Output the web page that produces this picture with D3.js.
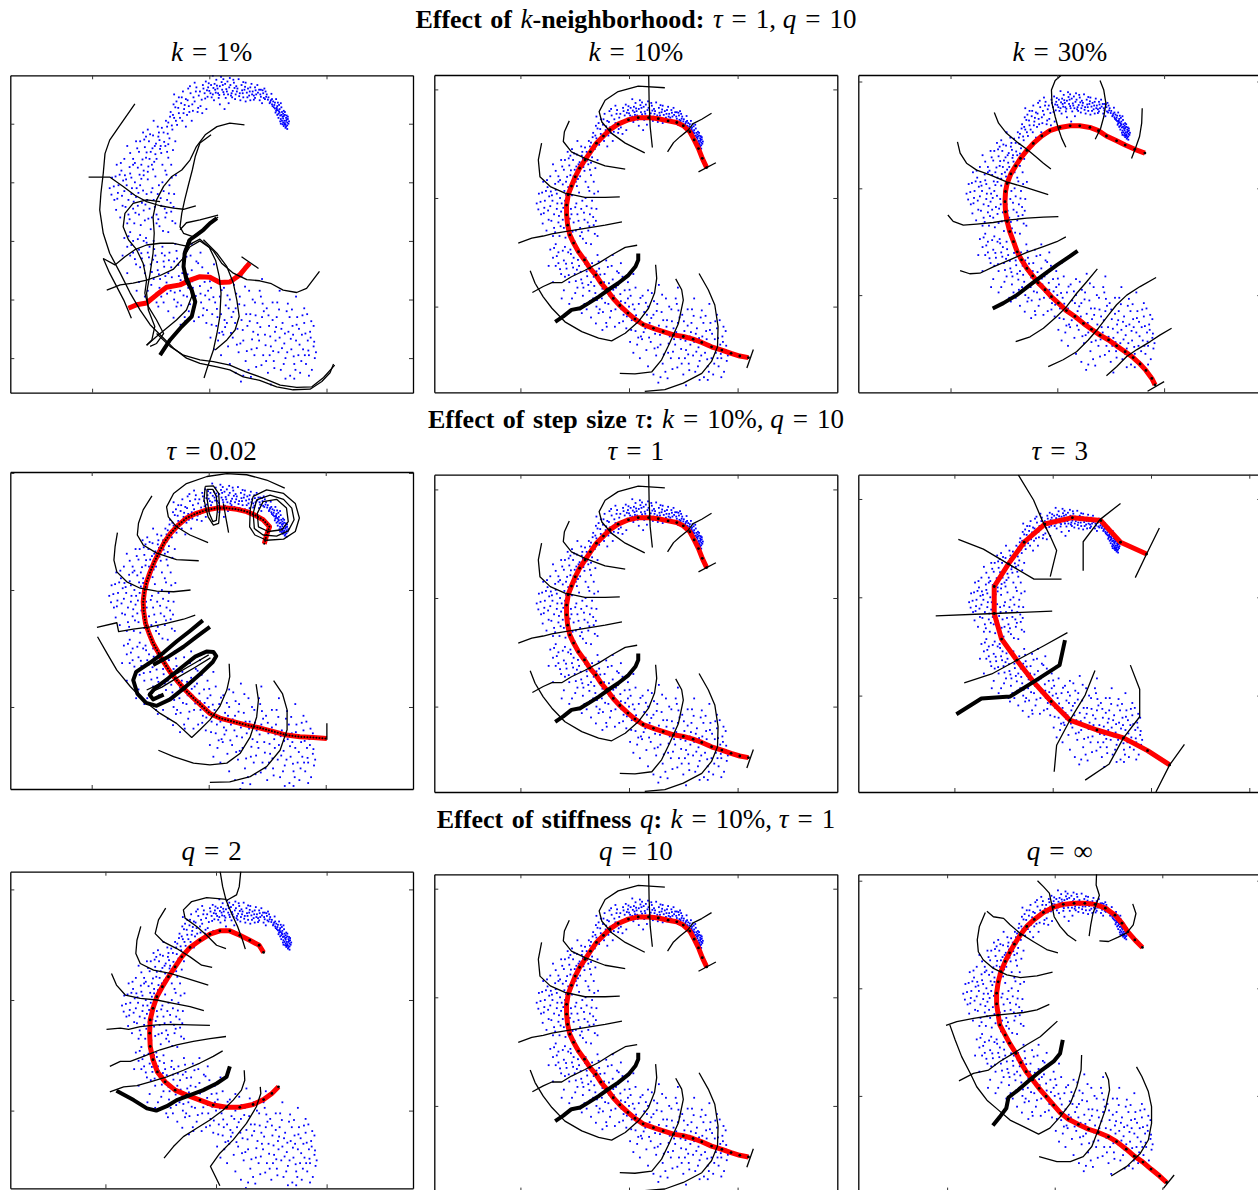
<!DOCTYPE html>
<html>
<head>
<meta charset="utf-8">
<script src="https://cdn.jsdelivr.net/npm/d3@7"></script>
<style>
  body { margin: 0; background: #fff; }
  svg { display: block; }
  text { font-family: "Liberation Serif", "Times New Roman", serif; white-space: pre; }
</style>
</head>
<body>
<div class="vis"></div>
<script>
// ---- data: the sample cloud (shared by every panel) ----
const cloud = [
  [1.30,0.98],[1.33,1.02],[1.28,1.05],[1.31,1.10],[1.25,1.12],[1.34,1.08],[1.27,0.96],[1.22,1.08],[1.29,1.15],[1.24,1.20],
  [1.18,1.17],[1.20,1.25],[1.14,1.22],[1.16,1.30],[1.10,1.28],[1.12,1.36],[1.07,1.33],[1.05,1.40],[1.26,1.02],[1.32,1.14],
  [1.21,1.14],[1.17,1.23],[1.09,1.38],[1.23,1.28],[1.30,0.93],[1.35,1.00],[1.19,1.32],[1.27,1.22],[1.13,1.19],[1.01,1.45],
  [0.98,1.50],[1.03,1.35],[1.28,0.99],[1.31,1.05],[1.24,1.05],[1.20,1.19],[1.15,1.27],[1.11,1.32],[1.26,1.17],[1.33,0.97],
  [1.22,1.00],[1.29,1.20],[1.07,1.42],[1.17,1.36],[1.34,1.12],[1.18,1.10],
  [0.95,1.42],[0.92,1.52],[0.88,1.46],[0.85,1.58],[0.80,1.50],[0.78,1.44],[0.74,1.55],[0.70,1.62],[0.68,1.48],[0.64,1.53],
  [0.60,1.58],[0.58,1.45],[0.55,1.66],[0.52,1.52],[0.48,1.60],[0.45,1.50],[0.42,1.70],[0.40,1.56],[0.37,1.48],[0.34,1.62],
  [0.30,1.55],[0.27,1.68],[0.25,1.50],[0.22,1.58],[0.18,1.64],[0.15,1.52],[0.12,1.75],[0.10,1.58],[0.06,1.50],[0.03,1.66],
  [0.00,1.56],[-0.03,1.46],[-0.06,1.72],[0.08,1.40],[0.33,1.35],[0.62,1.38],[0.90,1.35],[0.20,1.80],[0.50,1.76],[0.72,1.68],
  [0.16,1.44],[0.44,1.42],[0.78,1.62],[-0.10,1.60],[0.96,1.55],[0.86,1.40],[0.82,1.66],[0.76,1.48],[0.66,1.60],[0.57,1.52],
  [0.53,1.40],[0.46,1.64],[0.38,1.52],[0.31,1.72],[0.28,1.44],[0.23,1.66],[0.14,1.60],[0.09,1.68],[0.04,1.45],[-0.02,1.62],
  [0.35,1.78],[0.62,1.70],[0.70,1.40],[0.88,1.58],[0.06,1.82],[-0.08,1.52],[0.26,1.25],[0.18,1.33],
  [1.29,1.01],[1.32,1.07],[1.26,1.09],[1.23,1.15],[1.19,1.21],[1.15,1.25],[1.27,1.13],[1.31,0.95],[1.21,1.04],[1.25,0.99],
  [1.16,1.15],[1.12,1.26],[1.08,1.30],[1.04,1.37],[1.00,1.41],[0.97,1.46],[0.93,1.44],[0.91,1.57],[0.87,1.50],[0.83,1.53],
  [0.79,1.57],[0.73,1.50],[0.69,1.55],[0.65,1.45],[0.61,1.63],[0.56,1.57],[0.51,1.47],[0.47,1.55],[0.43,1.61],[0.39,1.45],
  [0.36,1.66],[0.32,1.50],[0.29,1.59],[0.24,1.54],[0.21,1.71],[0.17,1.49],[0.13,1.65],[0.11,1.53],[0.07,1.61],[0.02,1.52],
  [-0.01,1.69],[-0.04,1.57],[-0.07,1.43],[-0.11,1.66],[0.24,1.76],[0.41,1.75],[0.58,1.71],[0.76,1.41],[0.94,1.60],[1.06,1.51],
  [1.14,1.42],[1.22,1.35],[1.36,1.04],[1.33,0.91],
  [-0.15,1.30],[-0.18,1.48],[-0.22,1.62],[-0.25,1.38],[-0.28,1.22],[-0.32,1.52],[-0.35,1.30],[-0.38,1.15],[-0.40,1.42],[-0.43,1.25],
  [-0.46,1.05],[-0.48,1.35],[-0.52,1.18],[-0.55,0.98],[-0.58,1.28],[-0.60,1.10],[-0.63,0.90],[-0.66,1.20],[-0.30,1.05],[-0.12,1.18],
  [-0.45,1.55],[-0.52,1.45],[-0.70,1.02],[-0.40,0.95],[-0.05,1.25],[-0.25,1.70],[-0.20,1.20],[-0.27,1.45],[-0.36,1.60],[-0.42,1.32],
  [-0.50,1.10],[-0.56,1.38],[-0.62,1.15],[-0.34,1.20],[-0.16,1.55],[-0.60,1.50],
  [-0.13,1.41],[-0.19,1.27],[-0.23,1.55],[-0.29,1.33],[-0.33,1.64],[-0.37,1.40],[-0.44,1.18],[-0.47,1.45],[-0.53,1.27],[-0.57,1.05],
  [-0.61,1.33],[-0.64,0.97],[-0.67,1.12],[-0.71,0.83],[-0.74,1.05],[-0.77,0.69],[-0.81,0.93],[-0.84,0.57],[-0.87,0.78],[-0.91,0.66],
  [-0.94,0.35],[-0.97,0.58],[-1.01,0.82],[-1.04,0.27],[-1.07,0.51],[-1.11,0.73],[-1.14,0.39],[-1.19,0.13],[-1.23,0.58],[-1.27,0.33],
  [-0.68,0.75],[-0.72,0.95],[-0.75,0.62],[-0.78,0.85],[-0.82,0.50],[-0.85,0.72],[-0.88,0.95],[-0.90,0.40],[-0.93,0.62],[-0.96,0.80],
  [-0.98,0.30],[-1.00,0.52],[-1.03,0.70],[-1.05,0.18],[-1.08,0.42],[-1.10,0.60],[-1.13,0.85],[-1.16,0.30],[-0.62,0.55],[-0.58,0.70],
  [-0.70,0.42],[-1.20,0.52],[-1.25,0.70],[-0.80,0.30],[-0.95,1.05],[-1.05,0.90],[-0.65,0.30],[-1.30,0.40],[-0.75,0.20],[-1.40,0.62],
  [-0.70,0.65],[-0.83,0.62],[-0.92,0.48],[-1.02,0.40],[-1.12,0.20],[-0.86,0.85],[-1.18,0.70],[-0.96,0.22],[-0.72,0.52],[-1.08,0.78],
  [-1.60,0.10],[-1.55,-0.05],[-1.50,0.20],[-1.45,-0.15],[-1.42,0.05],[-1.38,-0.30],[-1.35,0.15],[-1.32,-0.10],[-1.30,-0.45],[-1.27,0.00],
  [-1.25,-0.25],[-1.22,0.25],[-1.20,-0.55],[-1.18,-0.05],[-1.15,-0.35],[-1.12,0.12],[-1.10,-0.65],[-1.07,-0.20],[-1.05,0.05],[-1.02,-0.45],
  [-1.00,-0.80],[-0.97,-0.10],[-0.95,-0.30],[-0.92,0.10],[-0.90,-0.55],[-0.88,-0.20],[-0.85,-0.75],[-0.82,-0.40],[-0.80,0.00],[-0.78,-0.15],
  [-0.75,-0.60],[-0.72,-0.30],[-0.70,-0.85],[-0.68,-0.05],[-0.65,-0.50],[-1.48,-0.40],[-1.52,-0.60],[-1.40,-0.70],[-1.35,-0.85],[-1.28,-0.70],
  [-1.62,-0.30],[-1.70,-0.10],[-1.58,0.30],[-1.45,0.40],[-1.35,0.50],[-0.60,-0.20],[-0.58,-0.70],[-1.18,-0.90],[-1.08,-0.95],[-0.95,-1.00],
  [-1.44,0.12],[-1.33,-0.20],[-1.24,-0.10],[-1.16,0.06],[-1.06,-0.30],[-0.98,-0.60],[-0.86,-0.05],[-0.76,-0.45],[-1.56,-0.18],[-1.38,-0.55],
  [-1.22,-0.40],[-1.12,-0.48],[-0.90,-0.70],[-0.66,-0.35],[-1.66,0.08],[-1.30,0.30],
  [-1.33,0.08],[-1.36,0.26],[-1.41,-0.05],[-1.47,0.03],[-1.53,0.13],[-1.57,-0.28],[-1.49,-0.23],[-1.43,-0.42],[-1.36,-0.63],[-1.29,-0.33],
  [-1.26,-0.52],[-1.21,-0.18],[-1.17,-0.73],[-1.13,-0.14],[-1.09,-0.38],[-1.04,-0.62],[-0.99,-0.17],[-0.93,-0.42],[-0.87,-0.63],[-0.83,-0.27],
  [-0.79,-0.83],[-0.73,-0.52],[-0.69,-0.19],[-0.63,-0.66],[-0.61,-0.42],[-0.57,0.12],[-0.64,0.08],[-0.73,0.13],[-1.63,-0.07],[-1.67,-0.21],
  [-1.59,-0.47],[-1.51,0.33],
  [-1.45,-0.95],[-1.40,-1.10],[-1.35,-1.25],[-1.30,-1.00],[-1.25,-1.40],[-1.20,-1.15],[-1.15,-1.30],[-1.10,-1.55],[-1.05,-1.20],[-1.00,-1.40],
  [-0.95,-1.65],[-0.92,-1.25],[-0.88,-1.50],[-0.85,-1.80],[-0.80,-1.10],[-0.78,-1.35],[-0.75,-1.60],[-0.72,-1.90],[-0.68,-1.20],[-0.65,-1.45],
  [-0.62,-1.75],[-0.60,-2.00],[-0.58,-1.05],[-0.55,-1.30],[-0.52,-1.60],[-0.50,-1.85],[-0.48,-2.10],[-0.45,-1.40],[-0.42,-1.15],[-0.40,-1.70],
  [-0.38,-1.95],[-0.35,-2.20],[-0.32,-1.25],[-0.30,-1.50],[-0.28,-1.80],[-0.25,-2.05],[-0.22,-1.35],[-0.20,-1.60],[-0.18,-2.30],[-0.15,-1.90],
  [-0.12,-1.45],[-0.10,-2.15],[-0.08,-1.70],[-0.05,-2.40],[-0.02,-1.55],[0.00,-2.00],[0.03,-1.80],[0.05,-2.25],[-1.20,-1.70],[-1.05,-1.85],
  [-0.90,-2.05],[-0.30,-1.05],[-0.15,-1.20],[0.08,-1.40],[0.12,-1.65],[-1.30,-1.20],[-1.18,-1.45],[-1.02,-1.10],[-0.96,-1.32],[-0.84,-1.65],
  [-0.70,-1.55],[-0.60,-1.35],[-0.46,-1.55],[-0.36,-1.80],[-0.24,-1.65],[-0.14,-2.05],[-0.02,-1.85],[-0.66,-1.85],[-0.54,-2.05],[-0.42,-2.30],
  [-0.82,-1.95],[-1.12,-1.00],[-0.76,-1.25],[-1.24,-1.85],[-0.99,-1.75],[-0.87,-2.12],[-0.70,-2.20],[-0.56,-2.12],[-0.41,-2.37],[-0.26,-2.37],
  [-1.10,-1.95],[-1.40,-1.55],[-1.48,-1.25],
  [-1.38,-0.92],[-1.33,-1.07],[-1.27,-1.31],[-1.22,-0.97],[-1.16,-1.21],[-1.11,-1.42],[-1.07,-1.03],[-1.03,-1.28],[-0.98,-1.53],[-0.94,-1.14],
  [-0.89,-1.36],[-0.86,-1.57],[-0.81,-1.21],[-0.77,-1.44],[-0.73,-1.71],[-0.69,-1.33],[-0.64,-1.62],[-0.59,-1.88],[-0.56,-1.17],[-0.53,-1.41],
  [-0.49,-1.67],[-0.44,-1.93],[-0.39,-1.27],[-0.37,-1.57],[-0.33,-2.08],[-0.29,-1.69],[-0.23,-1.94],[-0.19,-1.38],[-0.16,-1.77],[-0.11,-2.27],
  [-0.07,-1.93],[-0.04,-2.18],[0.01,-1.69],[0.04,-2.43],[0.07,-1.96],[0.13,-2.16],[0.17,-2.57],[-0.61,-2.31],[-0.49,-2.43],[-0.78,-2.05],
  [0.10,-2.05],[0.12,-2.45],[0.15,-2.70],[0.18,-1.95],[0.20,-2.25],[0.22,-2.55],[0.25,-1.80],[0.28,-2.10],[0.30,-2.40],[0.32,-2.80],
  [0.35,-2.00],[0.38,-2.30],[0.40,-2.65],[0.42,-1.75],[0.45,-2.15],[0.48,-2.50],[0.50,-2.90],[0.52,-1.95],[0.55,-2.35],[0.58,-2.70],
  [0.60,-2.10],[0.62,-3.05],[0.65,-2.45],[0.68,-1.85],[0.70,-2.25],[0.72,-2.85],[0.75,-2.55],[0.78,-2.05],[0.80,-3.15],[0.82,-2.40],
  [0.85,-2.70],[0.88,-1.95],[0.90,-2.30],[0.92,-2.95],[0.95,-2.60],[0.98,-2.15],[1.00,-3.25],[1.02,-2.45],[1.05,-2.80],[1.08,-2.05],
  [1.10,-3.05],[1.12,-2.55],[1.15,-2.30],[1.18,-2.90],[1.20,-2.65],[1.22,-3.20],[1.25,-2.40],[1.28,-2.75],[1.30,-3.00],[1.32,-2.20],
  [1.35,-2.55],[1.38,-3.30],[1.40,-2.85],[1.42,-2.45],[1.45,-3.10],[1.48,-2.70],[1.50,-2.30],[1.52,-2.95],[1.55,-3.25],[1.58,-2.60],
  [1.60,-2.85],[1.62,-2.40],[1.65,-3.10],[1.68,-2.70],[1.70,-2.95],[1.72,-2.55],[1.75,-3.20],[1.78,-2.80],[1.80,-3.00],[1.48,-1.95],
  [1.62,-2.15],[1.20,-1.85],[0.90,-1.65],[0.55,-1.60],[0.35,-1.70],[1.05,-3.45],[0.58,-3.30],[0.14,-2.30],[0.24,-2.60],[0.33,-2.15],
  [0.44,-2.40],[0.53,-2.75],[0.63,-2.25],[0.74,-2.00],[0.83,-2.60],[0.93,-2.20],[1.03,-2.95],[1.13,-2.70],[1.23,-2.50],[1.33,-2.90],
  [1.43,-2.60],[1.53,-2.50],[1.63,-2.95],[1.73,-2.65],[1.82,-2.90],[1.57,-3.05],[1.47,-3.20],[1.27,-3.10],[0.97,-3.05],[0.77,-2.95],
  [0.67,-3.20],[1.37,-2.30],[1.67,-2.25],[1.78,-2.45],[1.08,-2.35],[0.86,-1.85],[1.16,-2.05],[0.46,-1.90],[0.26,-2.35],[0.02,-2.65],
  [0.08,-2.85],[0.20,-2.95],[0.35,-3.10],[0.45,-3.25],[0.54,-3.40],[1.30,-3.35],[1.45,-3.35],[1.70,-3.30],
  [0.21,-1.84],[0.27,-2.47],[0.31,-1.93],[0.37,-2.57],[0.41,-2.21],[0.47,-2.77],[0.51,-2.08],[0.57,-2.52],[0.61,-1.78],[0.64,-2.88],
  [0.69,-2.37],[0.73,-2.68],[0.79,-2.27],[0.81,-2.83],[0.87,-2.47],[0.91,-2.07],[0.96,-2.78],[1.01,-2.27],[1.04,-2.63],[1.09,-2.88],
  [1.14,-2.47],[1.19,-2.17],[1.24,-2.83],[1.29,-2.58],[1.34,-2.07],[1.39,-2.67],[1.44,-2.97],[1.49,-2.43],[1.54,-2.77],[1.59,-2.27],
  [1.64,-2.58],[1.69,-2.87],[1.74,-2.37],[1.79,-2.72],[1.41,-2.17],[1.11,-3.17],[0.89,-3.12],[0.71,-3.32]
];

// ---- k = 10%, tau = 1, q = 10 (shown three times) ----
const redK10 = [[1.43,0.56],[1.35,0.73],[1.28,0.91],[1.20,1.07],[1.12,1.22],[1.00,1.33],[0.88,1.39],[0.72,1.42],[0.54,1.46],[0.36,1.48],[0.17,1.48],[-0.01,1.44],[-0.20,1.36],[-0.35,1.26],[-0.47,1.14],[-0.60,1.01],[-0.71,0.85],[-0.81,0.70],[-0.91,0.55],[-0.99,0.39],[-1.06,0.22],[-1.12,0.06],[-1.15,-0.13],[-1.15,-0.31],[-1.13,-0.50],[-1.09,-0.68],[-1.02,-0.83],[-0.93,-0.99],[-0.82,-1.14],[-0.72,-1.29],[-0.61,-1.42],[-0.52,-1.56],[-0.41,-1.69],[-0.29,-1.85],[-0.17,-1.98],[-0.02,-2.12],[0.11,-2.23],[0.26,-2.33],[0.45,-2.40],[0.63,-2.46],[0.82,-2.52],[1.00,-2.55],[1.18,-2.60],[1.34,-2.66],[1.52,-2.74],[1.71,-2.80],[1.88,-2.86],[2.04,-2.91],[2.20,-2.94]];
const thinK10 = [
  [[0.66,2.03],[0.17,2.06],[-0.20,1.96],[-0.44,1.80],[-0.55,1.59],[-0.50,1.40],[-0.32,1.19],[-0.07,1.01],[0.29,0.83]],
  [[0.36,2.40],[0.37,1.80],[0.39,1.31],[0.43,0.93]],
  [[1.52,1.56],[1.34,1.45],[1.18,1.37],[1.09,1.25],[0.94,1.13],[0.82,1.02],[0.71,0.85]],
  [[1.28,0.48],[1.60,0.65]],
  [[-1.10,1.42],[-1.19,1.22],[-1.21,1.04],[-1.06,0.85],[-0.81,0.73],[-0.44,0.59],[-0.07,0.53]],
  [[-1.61,1.01],[-1.67,0.70],[-1.64,0.39],[-1.45,0.21],[-1.18,0.09],[-0.81,0.01],[-0.44,0.01],[-0.17,0.02]],
  [[-2.04,-0.83],[-1.79,-0.74],[-1.58,-0.70],[-1.42,-0.66],[-1.18,-0.62],[-0.81,-0.56],[-0.44,-0.50],[-0.13,-0.44]],
  [[-1.78,-1.74],[-1.58,-1.63],[-1.42,-1.56],[-1.24,-1.56],[-1.06,-1.45],[-0.81,-1.33],[-0.56,-1.20],[-0.32,-1.05],[-0.07,-0.91],[0.15,-0.87]],
  [[-1.82,-1.34],[-1.73,-1.57],[-1.58,-1.82],[-1.42,-2.03],[-1.18,-2.28],[-0.87,-2.46],[-0.56,-2.58],[-0.32,-2.63],[-0.07,-2.49],[0.17,-2.28],[0.36,-2.03],[0.47,-1.75],[0.51,-1.48],[0.49,-1.23]],
  [[-0.17,-3.23],[0.11,-3.24],[0.42,-3.20],[0.60,-2.98],[0.75,-2.67],[0.91,-2.31],[1.00,-1.88],[0.97,-1.69],[0.86,-1.49]],
  [[0.29,-3.56],[0.66,-3.53],[1.00,-3.41],[1.34,-3.23],[1.52,-3.01],[1.63,-2.74],[1.64,-2.37],[1.58,-1.97],[1.46,-1.69],[1.29,-1.39]],
  [[2.17,-3.13],[2.29,-2.79]]
];
const thickK10 = [[[-1.36,-2.28],[-1.21,-2.18],[-1.06,-2.06],[-0.90,-2.03],[-0.75,-1.94],[-0.56,-1.82],[-0.38,-1.69],[-0.20,-1.57],[-0.01,-1.42],[0.12,-1.26],[0.17,-1.14],[0.17,-1.02]]];

// ---- k = 1% ----
const redK1 = [[-1.38,-2.15],[-1.24,-2.09],[-1.07,-2.06],[-0.90,-1.92],[-0.73,-1.79],[-0.50,-1.75],[-0.33,-1.67],[-0.16,-1.61],[0.01,-1.62],[0.18,-1.71],[0.35,-1.70],[0.52,-1.58],[0.61,-1.47],[0.69,-1.38]];
const thinK1 = [
  [[-1.27,1.34],[-1.52,0.98],[-1.70,0.72],[-1.78,0.49],[-1.81,0.15],[-1.85,-0.19],[-1.87,-0.47],[-1.81,-0.87],[-1.70,-1.21],[-1.52,-1.55],[-1.35,-1.89],[-1.18,-2.18],[-1.01,-2.43],[-0.81,-2.63],[-0.61,-2.83],[-0.39,-3.00],[-0.16,-3.09],[0.13,-3.15],[0.35,-3.20],[0.58,-3.32],[0.86,-3.38],[1.15,-3.49],[1.43,-3.54],[1.72,-3.53],[1.92,-3.40],[2.06,-3.25],[2.12,-3.10]],
  [[-0.90,-2.58],[-0.67,-2.80],[-0.44,-2.95],[-0.16,-3.03],[0.07,-3.06],[0.35,-3.12],[0.61,-3.23],[0.92,-3.34],[1.21,-3.46],[1.49,-3.50],[1.75,-3.49],[1.95,-3.33],[2.14,-3.12]],
  [[-2.06,0.09],[-1.70,0.09],[-1.47,-0.07],[-1.27,-0.22],[-1.07,-0.33],[-0.84,-0.40],[-0.61,-0.44],[-0.44,-0.46],[-0.23,-0.40]],
  [[0.60,0.98],[0.35,1.01],[0.13,0.95],[-0.07,0.81],[-0.22,0.61],[-0.33,0.38],[-0.47,0.21],[-0.64,0.10],[-0.78,-0.07],[-0.90,-0.30],[-0.96,-0.59],[-0.94,-0.87],[-0.96,-1.21],[-1.01,-1.55],[-1.07,-1.89],[-1.04,-2.18],[-0.93,-2.46],[-0.98,-2.69],[-1.07,-2.78]],
  [[0.03,0.81],[-0.16,0.67],[-0.24,0.44],[-0.29,0.21],[-0.35,-0.02],[-0.42,-0.30],[-0.47,-0.53],[-0.50,-0.76],[-0.44,-0.87],[-0.27,-0.93]],
  [[-1.81,-1.30],[-1.61,-1.41],[-1.44,-1.27],[-1.27,-1.15],[-1.07,-1.07],[-0.84,-1.04],[-0.61,-1.04],[-0.39,-1.09],[-0.16,-0.97],[0.07,-1.17],[0.21,-1.38],[0.41,-1.55],[0.64,-1.66],[0.86,-1.68],[1.06,-1.73],[1.26,-1.84],[1.49,-1.88],[1.66,-1.81],[1.88,-1.52]],
  [[-1.75,-1.84],[-1.52,-1.75],[-1.30,-1.72],[-1.07,-1.67],[-0.84,-1.59],[-0.61,-1.48],[-0.46,-1.31],[-0.33,-1.10],[-0.16,-1.00],[0.00,-1.11],[0.11,-1.34],[0.17,-1.61],[0.20,-1.89],[0.18,-2.29],[0.13,-2.58],[0.07,-2.86],[-0.03,-3.15],[-0.09,-3.34]],
  [[-1.81,-1.30],[-1.70,-1.55],[-1.58,-1.78],[-1.46,-2.01],[-1.33,-2.32]],
  [[0.55,-1.27],[0.84,-1.47]],
  [[-0.84,-0.33],[-1.07,-0.30],[-1.30,-0.36],[-1.44,-0.53],[-1.47,-0.76],[-1.38,-0.98],[-1.24,-1.15],[-1.13,-1.38],[-1.07,-1.67],[-1.10,-1.89],[-1.04,-2.12],[-0.90,-2.35],[-0.78,-2.58],[-0.90,-2.75],[-1.01,-2.80]],
  [[-0.10,-0.98],[0.13,-1.21],[0.30,-1.44],[0.41,-1.72],[0.47,-2.01],[0.51,-2.29],[0.44,-2.52],[0.30,-2.69],[0.10,-2.86]],
  [[0.15,-0.56],[-0.16,-0.64],[-0.39,-0.69],[-0.50,-0.81]],
  [[-1.07,-2.78],[-0.90,-2.63],[-0.73,-2.49],[-0.56,-2.35],[-0.39,-2.18],[-0.30,-1.95],[-0.33,-1.72],[-0.42,-1.50],[-0.44,-1.21],[-0.36,-0.98],[-0.16,-0.84],[0.07,-0.67],[0.15,-0.59]]
];
const thickK1 = [[[-0.84,-2.95],[-0.67,-2.69],[-0.47,-2.46],[-0.30,-2.29],[-0.24,-2.04],[-0.30,-1.84],[-0.39,-1.67],[-0.44,-1.44],[-0.42,-1.21],[-0.33,-0.98],[-0.22,-0.90],[-0.10,-0.81],[0.01,-0.70],[0.13,-0.61]]];

// ---- k = 30% ----
const redK30 = [[1.64,0.66],[1.45,0.73],[1.27,0.81],[1.11,0.89],[0.92,0.98],[0.77,1.08],[0.61,1.14],[0.42,1.17],[0.24,1.17],[0.05,1.14],[-0.14,1.08],[-0.29,0.98],[-0.45,0.84],[-0.57,0.71],[-0.69,0.56],[-0.78,0.42],[-0.87,0.27],[-0.94,0.09],[-0.97,-0.06],[-0.98,-0.25],[-0.97,-0.44],[-0.94,-0.62],[-0.89,-0.81],[-0.82,-1.00],[-0.75,-1.19],[-0.67,-1.34],[-0.57,-1.50],[-0.46,-1.64],[-0.36,-1.77],[-0.23,-1.90],[-0.11,-2.03],[0.02,-2.15],[0.17,-2.29],[0.33,-2.40],[0.49,-2.53],[0.64,-2.64],[0.80,-2.75],[0.96,-2.84],[1.11,-2.95],[1.27,-3.06],[1.42,-3.17],[1.55,-3.29],[1.66,-3.41],[1.77,-3.56],[1.83,-3.68]];
const thinK30 = [
  [[0.11,2.15],[-0.04,2.02],[-0.11,1.84],[-0.10,1.59],[-0.04,1.34],[0.02,1.12],[0.08,0.94],[0.16,0.77]],
  [[0.80,2.02],[0.87,1.84],[0.91,1.59],[0.87,1.34],[0.81,1.12],[0.71,0.92]],
  [[1.59,1.50],[1.58,1.22],[1.54,0.97],[1.47,0.77],[1.39,0.56]],
  [[-1.18,1.42],[-1.10,1.22],[-0.95,1.03],[-0.76,0.87],[-0.57,0.73],[-0.39,0.58],[-0.26,0.47],[-0.12,0.36]],
  [[-1.87,0.87],[-1.82,0.66],[-1.70,0.47],[-1.51,0.34],[-1.26,0.25],[-0.95,0.12],[-0.64,0.03],[-0.39,-0.05],[-0.17,-0.12]],
  [[-2.05,-0.50],[-1.95,-0.62],[-1.76,-0.69],[-1.51,-0.67],[-1.20,-0.64],[-0.89,-0.59],[-0.57,-0.56],[-0.26,-0.54],[0.02,-0.53]],
  [[-1.82,-1.54],[-1.64,-1.60],[-1.45,-1.59],[-1.20,-1.47],[-0.89,-1.34],[-0.57,-1.20],[-0.26,-1.09],[-0.01,-1.00],[0.16,-0.91]],
  [[-0.78,-2.87],[-0.51,-2.78],[-0.26,-2.62],[-0.01,-2.40],[0.17,-2.22],[0.36,-1.97],[0.55,-1.75],[0.75,-1.51]],
  [[-0.17,-3.34],[0.11,-3.21],[0.36,-3.06],[0.58,-2.84],[0.77,-2.62],[0.96,-2.37],[1.11,-2.18],[1.30,-2.00],[1.55,-1.84],[1.85,-1.67]],
  [[0.92,-3.51],[1.11,-3.34],[1.30,-3.15],[1.49,-3.02],[1.74,-2.87],[1.92,-2.75],[2.14,-2.62]],
  [[1.69,-3.80],[2.00,-3.62]]
];
const thickK30 = [[[-1.21,-2.25],[-1.01,-2.15],[-0.76,-2.00],[-0.51,-1.81],[-0.26,-1.62],[-0.01,-1.44],[0.24,-1.27],[0.38,-1.17]]];

// ---- tau = 0.02 ----
const redT002 = [[0.95,0.79],[0.99,0.94],[1.04,1.08],[0.93,1.20],[0.79,1.28],[0.65,1.34],[0.48,1.38],[0.31,1.40],[0.14,1.40],[-0.03,1.37],[-0.21,1.31],[-0.38,1.23],[-0.52,1.11],[-0.65,0.97],[-0.75,0.83],[-0.84,0.66],[-0.93,0.48],[-1.00,0.31],[-1.06,0.14],[-1.10,-0.03],[-1.12,-0.20],[-1.11,-0.37],[-1.08,-0.57],[-1.02,-0.74],[-0.95,-0.91],[-0.86,-1.07],[-0.77,-1.23],[-0.66,-1.40],[-0.55,-1.54],[-0.40,-1.71],[-0.26,-1.85],[-0.12,-1.98],[0.02,-2.11],[0.19,-2.19],[0.42,-2.25],[0.65,-2.31],[0.88,-2.36],[1.11,-2.42],[1.33,-2.48],[1.56,-2.51],[1.79,-2.52],[2.02,-2.54]];
const thinT002 = [
  [[1.30,1.74],[0.99,1.88],[0.65,1.97],[0.31,1.99],[-0.03,1.94],[-0.38,1.82],[-0.60,1.65],[-0.72,1.42],[-0.69,1.25],[-0.55,1.08],[-0.32,0.94],[-0.01,0.81]],
  [[-0.06,1.77],[0.08,1.78],[0.17,1.65],[0.19,1.37],[0.17,1.14],[0.08,1.11],[-0.01,1.25],[-0.08,1.54],[-0.06,1.77]],
  [[-0.03,1.72],[0.07,1.72],[0.13,1.60],[0.15,1.37],[0.13,1.19],[0.07,1.17],[0.01,1.31],[-0.03,1.57],[-0.03,1.72]],
  [[0.25,1.48],[0.30,1.20],[0.34,0.98]],
  [[0.76,1.60],[0.99,1.71],[1.28,1.65],[1.48,1.48],[1.55,1.23],[1.48,1.00],[1.28,0.87],[0.99,0.85],[0.79,0.94],[0.70,1.08],[0.71,1.37],[0.76,1.60]],
  [[0.82,1.54],[1.05,1.62],[1.28,1.55],[1.42,1.40],[1.46,1.20],[1.36,1.01],[1.16,0.92],[0.93,0.94],[0.78,1.05],[0.76,1.31],[0.82,1.54]],
  [[0.93,1.51],[1.16,1.55],[1.33,1.40],[1.36,1.17],[1.25,1.03],[1.02,1.00],[0.85,1.08],[0.83,1.31],[0.93,1.51]],
  [[-0.97,1.61],[-1.12,1.37],[-1.20,1.14],[-1.22,0.94],[-1.12,0.77],[-0.89,0.63],[-0.55,0.52],[-0.17,0.50]],
  [[-1.56,0.98],[-1.60,0.74],[-1.62,0.51],[-1.57,0.31],[-1.40,0.14],[-1.17,0.03],[-0.89,-0.02],[-0.60,-0.03],[-0.31,0.00]],
  [[-1.91,-0.64],[-1.57,-0.56],[-1.54,-0.71],[-1.29,-0.67],[-1.00,-0.63],[-0.72,-0.57],[-0.43,-0.50],[-0.23,-0.43]],
  [[-1.90,-0.80],[-1.74,-1.08],[-1.57,-1.37],[-1.34,-1.65],[-1.12,-1.88],[-0.83,-2.11],[-0.55,-2.28],[-0.29,-2.52],[-0.15,-2.39],[0.02,-2.22],[0.19,-1.99],[0.31,-1.71],[0.36,-1.48],[0.35,-1.26]],
  [[-0.86,-2.74],[-0.60,-2.85],[-0.26,-2.96],[0.02,-2.99],[0.31,-2.96],[0.54,-2.79],[0.71,-2.51],[0.82,-2.17],[0.85,-1.88],[0.81,-1.61]],
  [[0.02,-3.29],[0.36,-3.28],[0.71,-3.19],[0.99,-3.02],[1.22,-2.74],[1.34,-2.39],[1.34,-2.05],[1.26,-1.77],[1.11,-1.55]],
  [[2.02,-2.28],[2.02,-2.56]],
  [[-1.06,-1.71],[-0.83,-1.60],[-0.55,-1.43],[-0.26,-1.26],[0.00,-1.11]],
  [[-1.03,-1.77],[-0.80,-1.66],[-0.52,-1.49],[-0.23,-1.32],[0.03,-1.16]]
];
const thickT002 = [
  [[-0.10,-0.52],[-0.32,-0.70],[-0.55,-0.88],[-0.77,-1.07],[-1.00,-1.24],[-1.24,-1.40],[-1.29,-1.54],[-1.22,-1.77],[-1.07,-1.93],[-0.89,-1.98],[-0.66,-1.87],[-0.40,-1.66],[-0.15,-1.44],[0.07,-1.23],[0.13,-1.13],[0.08,-1.06],[-0.03,-1.05],[-0.23,-1.14],[-0.46,-1.32],[-0.69,-1.51],[-0.92,-1.68],[-1.01,-1.79],[-0.95,-1.87],[-0.77,-1.79]],
  [[0.02,-0.63],[-0.21,-0.80],[-0.43,-0.97],[-0.69,-1.14],[-0.95,-1.28]]
];

// ---- tau = 3 ----
const redT3 = [[2.38,-3.41],[1.93,-3.12],[1.44,-2.86],[0.90,-2.70],[0.35,-2.50],[-0.03,-2.12],[-0.39,-1.72],[-0.73,-1.28],[-1.04,-0.85],[-1.19,-0.33],[-1.19,0.22],[-0.90,0.68],[-0.58,1.12],[-0.16,1.49],[0.40,1.62],[0.98,1.56],[1.38,1.12],[1.91,0.88]];
const thinT3 = [
  [[-0.70,2.49],[-0.39,1.98],[-0.22,1.58],[-0.05,1.24],[0.08,0.95],[-0.05,0.42]],
  [[1.38,1.91],[0.96,1.58],[0.62,1.13],[0.62,0.54]],
  [[2.17,1.41],[1.91,0.88],[1.68,0.40]],
  [[-1.92,1.18],[-1.41,0.98],[-0.87,0.66],[-0.38,0.37],[0.18,0.37]],
  [[-2.38,-0.38],[-1.19,-0.33],[-0.01,-0.28]],
  [[-1.80,-1.74],[-1.24,-1.56],[-0.73,-1.28],[-0.19,-0.99],[0.30,-0.72]],
  [[0.03,-3.55],[0.08,-3.01],[0.35,-2.50],[0.66,-1.99],[0.86,-1.49]],
  [[0.66,-3.72],[1.15,-3.39],[1.44,-2.86],[1.77,-2.43],[1.77,-1.87],[1.58,-1.38]],
  [[2.10,-3.96],[2.38,-3.41],[2.68,-2.99]]
];
const thickT3 = [[[-1.96,-2.38],[-1.45,-2.06],[-0.87,-2.02],[-0.39,-1.72],[0.14,-1.38],[0.25,-0.87]]];

// ---- q = 2 ----
const redQ2 = [[0.86,0.86],[0.78,0.99],[0.61,1.08],[0.43,1.17],[0.25,1.25],[0.07,1.25],[-0.11,1.19],[-0.29,1.08],[-0.47,0.95],[-0.62,0.78],[-0.74,0.60],[-0.86,0.42],[-0.97,0.24],[-1.07,0.06],[-1.14,-0.15],[-1.19,-0.36],[-1.20,-0.60],[-1.19,-0.84],[-1.14,-1.08],[-1.06,-1.30],[-0.92,-1.48],[-0.74,-1.63],[-0.53,-1.72],[-0.29,-1.81],[-0.05,-1.90],[0.19,-1.94],[0.43,-1.94],[0.67,-1.89],[0.86,-1.80],[1.01,-1.69],[1.13,-1.57]];
const thinQ2 = [
  [[0.07,2.35],[0.12,2.05],[0.18,1.81],[0.28,1.57],[0.39,1.33],[0.48,1.08],[0.53,0.92]],
  [[0.45,2.35],[0.42,2.05],[0.37,1.90],[0.19,1.80]],
  [[0.19,1.82],[-0.17,1.85],[-0.44,1.78],[-0.59,1.63],[-0.56,1.48],[-0.35,1.33],[-0.17,1.17],[0.01,0.99],[0.18,0.93]],
  [[-0.91,1.66],[-1.04,1.45],[-1.10,1.20],[-0.95,1.05],[-0.71,0.93],[-0.47,0.78],[-0.26,0.63],[-0.07,0.59]],
  [[-1.36,1.33],[-1.43,1.08],[-1.45,0.84],[-1.37,0.66],[-1.13,0.54],[-0.83,0.48],[-0.53,0.39],[-0.14,0.27]],
  [[-1.89,0.48],[-1.80,0.27],[-1.64,0.09],[-1.37,0.03],[-1.07,0.00],[-0.77,-0.06],[-0.47,-0.12],[-0.22,-0.19]],
  [[-1.98,-0.53],[-1.73,-0.51],[-1.58,-0.53],[-1.37,-0.48],[-1.07,-0.45],[-0.77,-0.44],[-0.47,-0.45],[-0.11,-0.46]],
  [[-1.92,-1.20],[-1.73,-1.11],[-1.55,-1.11],[-1.31,-1.02],[-1.01,-0.90],[-0.71,-0.81],[-0.41,-0.75],[-0.11,-0.70],[0.18,-0.66]],
  [[-1.92,-1.66],[-1.67,-1.57],[-1.43,-1.55],[-1.19,-1.48],[-0.89,-1.39],[-0.59,-1.27],[-0.29,-1.14],[-0.05,-1.02],[0.12,-0.92]],
  [[-0.94,-2.86],[-0.77,-2.65],[-0.59,-2.47],[-0.35,-2.32],[-0.11,-2.17],[0.13,-1.99],[0.31,-1.81],[0.46,-1.63],[0.52,-1.45],[0.51,-1.27]],
  [[0.07,-3.36],[-0.10,-3.01],[0.07,-2.77],[0.31,-2.53],[0.55,-2.23],[0.73,-1.93],[0.81,-1.69],[0.80,-1.57]]
];
const thickQ2 = [[[-1.80,-1.64],[-1.49,-1.81],[-1.25,-1.96],[-1.08,-2.00],[-0.89,-1.92],[-0.71,-1.81],[-0.47,-1.72],[-0.23,-1.63],[0.01,-1.51],[0.19,-1.39],[0.25,-1.20]]];

// ---- q = infinity ----
const redQinf = [[1.63,0.76],[1.49,0.90],[1.36,1.05],[1.25,1.21],[1.12,1.36],[0.94,1.49],[0.75,1.56],[0.56,1.58],[0.36,1.58],[0.16,1.56],[-0.02,1.51],[-0.21,1.41],[-0.38,1.28],[-0.52,1.15],[-0.64,0.99],[-0.75,0.82],[-0.84,0.66],[-0.92,0.50],[-1.00,0.31],[-1.05,0.12],[-1.08,-0.09],[-1.08,-0.29],[-1.05,-0.50],[-1.02,-0.68],[-0.92,-0.87],[-0.84,-1.02],[-0.72,-1.21],[-0.63,-1.38],[-0.53,-1.55],[-0.41,-1.70],[-0.29,-1.86],[-0.16,-2.01],[-0.02,-2.17],[0.11,-2.32],[0.25,-2.43],[0.44,-2.53],[0.63,-2.62],[0.81,-2.68],[1.00,-2.76],[1.15,-2.85],[1.33,-2.99],[1.48,-3.12],[1.64,-3.23],[1.79,-3.36],[1.95,-3.49],[2.08,-3.61]];
const thinQinf = [
  [[-0.32,2.00],[-0.21,1.89],[-0.10,1.77],[-0.06,1.58],[-0.01,1.33],[0.10,1.15],[0.24,0.99],[0.40,0.88]],
  [[0.78,2.20],[0.77,1.92],[0.83,1.73],[0.78,1.58],[0.71,1.39],[0.67,1.18],[0.64,0.97]],
  [[1.45,1.57],[1.51,1.39],[1.46,1.18],[1.34,1.03],[1.18,0.95],[1.00,0.87],[0.83,0.88]],
  [[-1.26,1.43],[-1.14,1.33],[-0.95,1.30],[-0.83,1.18],[-0.64,1.02],[-0.40,0.87],[-0.15,0.72],[0.06,0.66]],
  [[-1.29,1.41],[-1.40,1.15],[-1.44,0.90],[-1.42,0.68],[-1.33,0.53],[-1.14,0.37],[-0.89,0.25],[-0.64,0.20],[-0.33,0.23],[-0.04,0.30]],
  [[-2.02,-0.69],[-1.82,-0.62],[-1.51,-0.56],[-1.20,-0.51],[-0.89,-0.48],[-0.58,-0.45],[-0.33,-0.40],[-0.10,-0.30]],
  [[-1.95,-0.68],[-1.85,-0.96],[-1.73,-1.27],[-1.57,-1.58],[-1.45,-1.83],[-1.26,-2.08],[-1.05,-2.26],[-0.83,-2.45],[-0.58,-2.57],[-0.30,-2.71],[-0.09,-2.60],[0.10,-2.39],[0.29,-2.14],[0.41,-1.83],[0.49,-1.52],[0.50,-1.24]],
  [[-1.78,-1.72],[-1.51,-1.58],[-1.23,-1.52],[-1.02,-1.36],[-0.77,-1.21],[-0.52,-1.05],[-0.27,-0.90],[-0.09,-0.74],[0.05,-0.61]],
  [[-0.29,-3.13],[0.04,-3.22],[0.29,-3.22],[0.53,-3.13],[0.69,-2.94],[0.81,-2.63],[0.94,-2.26],[1.02,-1.89],[1.00,-1.70],[0.94,-1.56]],
  [[1.05,-3.49],[1.34,-3.31],[1.59,-3.07],[1.74,-2.82],[1.80,-2.51],[1.80,-2.20],[1.74,-1.92],[1.62,-1.64],[1.52,-1.46]],
  [[2.02,-3.72],[2.22,-3.47]]
];
const thickQinf = [[[-1.15,-2.55],[-1.02,-2.39],[-0.90,-2.23],[-0.86,-2.03],[-0.68,-1.89],[-0.46,-1.70],[-0.24,-1.52],[-0.02,-1.36],[0.10,-1.21],[0.15,-0.96]]];

// ---- texts ----
const EQ = "\u2004=\u2004";
const rowTitles = [
  [["Effect of ","b"],["k","i"],["-neighborhood: ","b"],["τ","i"],[EQ + "1, ","r"],["q","i"],[EQ + "10","r"]],
  [["Effect of step size ","b"],["τ","i"],[": ","b"],["k","i"],[EQ + "10%, ","r"],["q","i"],[EQ + "10","r"]],
  [["Effect of stiffness ","b"],["q","i"],[": ","b"],["k","i"],[EQ + "10%, ","r"],["τ","i"],[EQ + "1","r"]]
];
const panelTitles = [
  [["k","i"],[EQ + "1%","r"]], [["k","i"],[EQ + "10%","r"]], [["k","i"],[EQ + "30%","r"]],
  [["τ","i"],[EQ + "0.02","r"]], [["τ","i"],[EQ + "1","r"]], [["τ","i"],[EQ + "3","r"]],
  [["q","i"],[EQ + "2","r"]], [["q","i"],[EQ + "10","r"]], [["q","i"],[EQ + "∞","r"]]
];

const configs = {
  k1:   { red: redK1,   thin: thinK1,   thick: thickK1,   dots: "none" },
  k10:  { red: redK10,  thin: thinK10,  thick: thickK10,  dots: "vertex" },
  k30:  { red: redK30,  thin: thinK30,  thick: thickK30,  dots: "vertex" },
  t002: { red: redT002, thin: thinT002, thick: thickT002, dots: "dense" },
  t3:   { red: redT3,   thin: thinT3,   thick: thickT3,   dots: "vertex" },
  q2:   { red: redQ2,   thin: thinQ2,   thick: thickQ2,   dots: "vertex" },
  qinf: { red: redQinf, thin: thinQinf, thick: thickQinf, dots: "vertex" }
};

// ---- layout ----
const panels = [
  { cfg: "k1",   left: 10.3,  right: 413,    top: 75.3,  bottom: 392.7,  xd: [-3.396, 3.476], yd: [-3.590, 1.826], xt: [-2, 0, 2], yt: [-3, -2, -1, 0, 1] },
  { cfg: "k10",  left: 434.3, right: 837.3,  top: 75,    bottom: 392.3,  xd: [-3.586, 3.836], yd: [-3.578, 2.265], xt: [-2, 0, 2], yt: [-2, 0, 2] },
  { cfg: "k30",  left: 858.3, right: 1261.3, top: 75,    bottom: 392.3,  xd: [-3.727, 3.820], yd: [-3.820, 2.122], xt: [-2, 0, 2], yt: [-2, 0, 2] },
  { cfg: "t002", left: 10.3,  right: 413,    top: 472,   bottom: 789,    xd: [-3.391, 3.492], yd: [-3.402, 2.017], xt: [-2, 0, 2], yt: [-2, 0, 2] },
  { cfg: "k10",  left: 434.3, right: 837.3,  top: 474.7, bottom: 792,    xd: [-3.586, 3.836], yd: [-3.573, 2.271], xt: [-2, 0, 2], yt: [-2, 0, 2] },
  { cfg: "t3",   left: 858.3, right: 1261.3, top: 474.7, bottom: 792,    xd: [-3.955, 4.244], yd: [-3.961, 2.494], xt: [-2, 0, 2, 4], yt: [-2, 0, 2] },
  { cfg: "q2",   left: 10.3,  right: 413,    top: 871.7, bottom: 1188.3, xd: [-3.720, 3.562], yd: [-3.405, 2.320], xt: [-2, 0, 2], yt: [-2, 0, 2] },
  { cfg: "k10",  left: 434.3, right: 837.3,  top: 874.3, bottom: 1191.6, xd: [-3.586, 3.836], yd: [-3.578, 2.265], xt: [-2, 0, 2], yt: [-2, 0, 2] },
  { cfg: "qinf", left: 858.3, right: 1261.3, top: 874.3, bottom: 1191.6, xd: [-3.651, 3.840], yd: [-3.779, 2.119], xt: [-2, 0, 2], yt: [-2, 0, 2] }
];
const rowTitleY = [28, 428, 828];
const panelTitleY = [61, 460, 860];

const svg = d3.select(".vis").append("svg").attr("width", 1258).attr("height", 1190);

const addRich = (sel, parts) => {
  parts.forEach(([t, s]) => {
    sel.append("tspan").text(t)
      .attr("font-size", s === "b" ? 26 : 27)
      .attr("word-spacing", s === "b" ? 2 : 0)
      .attr("font-weight", s === "b" ? "bold" : "normal")
      .attr("font-style", s === "i" ? "italic" : "normal");
  });
};

rowTitles.forEach((parts, i) => {
  const t = svg.append("text").attr("x", 636).attr("y", rowTitleY[i])
    .attr("text-anchor", "middle").attr("fill", "#000");
  addRich(t, parts);
});

panels.forEach((p, i) => {
  const c = configs[p.cfg];
  const x = d3.scaleLinear().domain(p.xd).range([p.left, p.right]);
  const y = d3.scaleLinear().domain(p.yd).range([p.bottom, p.top]);
  const line = d3.line().x(d => x(d[0])).y(d => y(d[1]));

  svg.append("clipPath").attr("id", "clip" + i)
    .append("rect").attr("x", p.left).attr("y", p.top)
    .attr("width", p.right - p.left).attr("height", p.bottom - p.top);

  const g = svg.append("g").attr("clip-path", "url(#clip" + i + ")");

  g.append("g").selectAll("rect").data(cloud).join("rect")
    .attr("x", d => x(d[0]) - 0.9).attr("y", d => y(d[1]) - 0.9)
    .attr("width", 1.8).attr("height", 1.8).attr("fill", "#0000ff");

  g.append("path").attr("d", line(c.red)).attr("fill", "none")
    .attr("stroke", "#ff0000").attr("stroke-width", 5)
    .attr("stroke-linejoin", "round").attr("stroke-linecap", "butt");

  if (c.dots === "vertex") {
    g.append("g").selectAll("circle").data(c.red).join("circle")
      .attr("cx", d => x(d[0])).attr("cy", d => y(d[1])).attr("r", 1.4).attr("fill", "#000");
  } else if (c.dots === "dense") {
    g.append("path").attr("d", line(c.red)).attr("fill", "none")
      .attr("stroke", "#000").attr("stroke-width", 2)
      .attr("stroke-dasharray", "0.01 3").attr("stroke-linecap", "round");
  }

  g.append("g").selectAll("path").data(c.thin).join("path")
    .attr("d", line).attr("fill", "none").attr("stroke", "#000")
    .attr("stroke-width", 1.3).attr("stroke-linejoin", "round");

  g.append("g").selectAll("path").data(c.thick).join("path")
    .attr("d", line).attr("fill", "none").attr("stroke", "#000")
    .attr("stroke-width", 4).attr("stroke-linejoin", "round");

  // frame with inward ticks
  const axes = [
    [d3.axisBottom(x).tickValues(p.xt), 0, p.bottom],
    [d3.axisTop(x).tickValues(p.xt), 0, p.top],
    [d3.axisLeft(y).tickValues(p.yt), p.left, 0],
    [d3.axisRight(y).tickValues(p.yt), p.right, 0]
  ];
  axes.forEach(([ax, tx, ty]) => {
    const a = svg.append("g").attr("transform", `translate(${tx},${ty})`)
      .call(ax.tickSizeInner(-4).tickSizeOuter(0).tickFormat(""));
    a.select(".domain").attr("stroke", "#000").attr("stroke-width", 1.3);
    a.selectAll(".tick line").attr("stroke", "#333").attr("stroke-width", 1);
  });

  const t = svg.append("text").attr("x", (p.left + p.right) / 2)
    .attr("y", panelTitleY[Math.floor(i / 3)])
    .attr("text-anchor", "middle").attr("fill", "#000");
  addRich(t, panelTitles[i]);
});
</script>
</body>
</html>
